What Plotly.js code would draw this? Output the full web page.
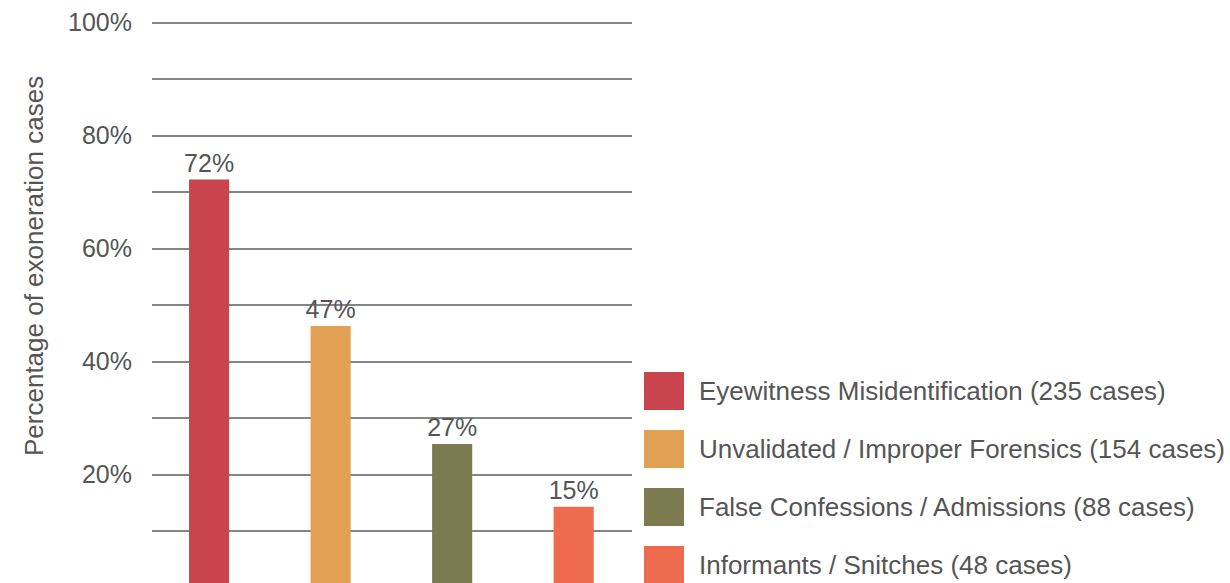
<!DOCTYPE html>
<html>
<head>
<meta charset="utf-8">
<script src="https://cdn.plot.ly/plotly-3.0.1.min.js"></script>
<style>
  html, body { margin: 0; padding: 0; background: #ffffff; }
  #chart { width: 1230px; height: 583px; }
</style>
</head>
<body>
<div id="chart"></div>
<script>
// ---- data ----
const categories = [
  'Eyewitness Misidentification',
  'Unvalidated / Improper Forensics',
  'False Confessions / Admissions',
  'Informants / Snitches'
];
const caseCounts = [235, 154, 88, 48];
const percentValues = [72.2, 46.3, 25.4, 14.3];
const valueLabels = ['72%', '47%', '27%', '15%'];
const barColors = ['#c9444c', '#e2a052', '#7c7b4f', '#ef6b4f'];
const yTickVals = [10, 20, 30, 40, 50, 60, 70, 80, 90, 100];
const yTickText = ['', '20%', '', '40%', '', '60%', '', '80%', '', '100%'];
const yAxisTitle = 'Percentage of exoneration cases';

// ---- layout geometry (pixels) ----
const W = 1230, H = 583;
const plotL = 152, plotR = 632, plotT = 20, plotB = 583;
const px2x = p => (p - plotL) / (plotR - plotL);
const py2y = p => (plotB - p) / (plotB - plotT);

const textFont = 'Liberation Sans, Arial, sans-serif';
const textColor = '#555555';

const trace = {
  type: 'bar',
  x: categories,
  y: percentValues,
  text: valueLabels,
  textposition: 'outside',
  constraintext: 'none',
  cliponaxis: false,
  textfont: { family: textFont, size: 25, color: textColor },
  marker: { color: barColors, line: { width: 0 } },
  width: 0.33,
  showlegend: false,
  hoverinfo: 'skip'
};

// legend drawn as swatches + labels
const shapes = [];
const annotations = [];
const legSwatchL = 644, legSwatchR = 684, legTop0 = 372, legPitch = 58, legSwatchH = 38, legTextX = 697;
categories.forEach((c, i) => {
  const top = legTop0 + i * legPitch;
  shapes.push({
    type: 'rect', xref: 'paper', yref: 'paper',
    x0: px2x(legSwatchL), x1: px2x(legSwatchR),
    y0: py2y(top + legSwatchH), y1: py2y(top),
    fillcolor: barColors[i], line: { width: 0 }, layer: 'above'
  });
  annotations.push({
    xref: 'paper', yref: 'paper',
    x: px2x(legTextX), y: py2y(top + legSwatchH / 2),
    xanchor: 'left', yanchor: 'middle', showarrow: false,
    text: c + ' (' + caseCounts[i] + ' cases)',
    font: { family: textFont, size: 26, color: textColor }
  });
});
annotations.push({
  xref: 'paper', yref: 'paper',
  x: px2x(34), y: py2y(266),
  xanchor: 'center', yanchor: 'middle', showarrow: false,
  textangle: -90,
  text: yAxisTitle,
  font: { family: textFont, size: 26, color: textColor }
});

const layout = {
  width: W, height: H,
  margin: { l: plotL, r: W - plotR, t: plotT, b: H - plotB, pad: 0 },
  paper_bgcolor: '#ffffff',
  plot_bgcolor: '#ffffff',
  font: { family: textFont, color: textColor },
  xaxis: {
    type: 'category',
    range: [-0.47, 3.48],
    showticklabels: false,
    showgrid: false,
    zeroline: false,
    showline: false,
    ticks: ''
  },
  yaxis: {
    range: [0.8, 100.45],
    tickmode: 'array',
    tickvals: yTickVals,
    ticktext: yTickText,
    showgrid: true,
    gridcolor: '#858585',
    gridwidth: 2,
    zeroline: false,
    showline: false,
    ticks: 'outside',
    ticklen: 14,
    tickcolor: 'rgba(0,0,0,0)',
    tickfont: { family: textFont, size: 25, color: textColor }
  },
  shapes: shapes,
  annotations: annotations,
  showlegend: false
};

Plotly.newPlot('chart', [trace], layout, { displayModeBar: false, staticPlot: true });
</script>
</body>
</html>
